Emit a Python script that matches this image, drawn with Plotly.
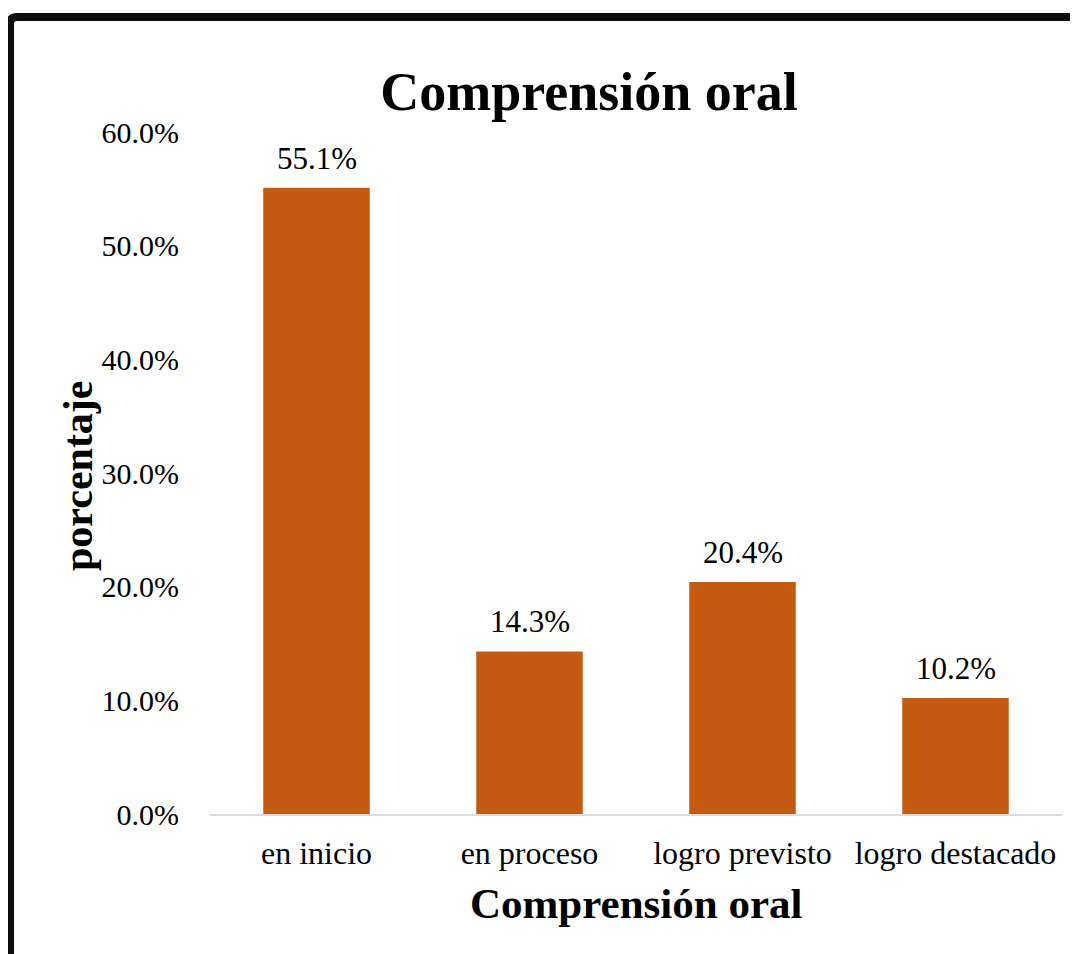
import plotly.graph_objects as go

categories = ["en inicio", "en proceso", "logro previsto", "logro destacado"]
values = [0.551, 0.143, 0.204, 0.102]
labels = ["55.1%", "14.3%", "20.4%", "10.2%"]
title_text = "Comprensión oral"
x_title = "Comprensión oral"
y_title = "porcentaje"

OFF = 8  # page body margin
W, H = 1078 - OFF, 954 - OFF
L, R, T, B = 210 - OFF, 16, 132 - OFF, 140
pw, ph = W - L - R, H - T - B

def px(x):
    # x given in reference page pixels
    return (x - OFF - L) / pw

def py(y):
    return (H - B - (y - OFF)) / ph

FONT = "Liberation Serif, Times New Roman, serif"
BAR = "#C55A11"

fig = go.Figure()
fig.add_trace(go.Bar(
    x=categories, y=values, marker=dict(color=BAR, line=dict(width=0)),
    width=0.5, hoverinfo="skip"
))

annotations = []
for c, v, t in zip(categories, values, labels):
    annotations.append(dict(x=c, y=v, xref="x", yref="y", text=t, showarrow=False,
                            yanchor="bottom", yshift=10,
                            font=dict(family=FONT, size=31, color="#000000")))
annotations.append(dict(x=px(636), y=py(904), xref="paper", yref="paper", text="<b>" + x_title + "</b>",
                        showarrow=False, xanchor="center", yanchor="middle",
                        font=dict(family=FONT, size=43, color="#000000")))
annotations.append(dict(x=px(78), y=py(476), xref="paper", yref="paper", text="<b>" + y_title + "</b>",
                        showarrow=False, xanchor="center", yanchor="middle", textangle=-90,
                        font=dict(family=FONT, size=42, color="#000000")))

fig.update_layout(
    width=W, height=H,
    margin=dict(l=L, r=R, t=T, b=B, pad=0),
    paper_bgcolor="white", plot_bgcolor="white",
    showlegend=False,
    title=dict(text="<b>" + title_text + "</b>", x=(589 - OFF) / W, y=1 - (91 - OFF) / H,
               xanchor="center", yanchor="middle", xref="container", yref="container",
               font=dict(family=FONT, size=54, color="#000000")),
    font=dict(family=FONT, size=30, color="#000000"),
    annotations=annotations,
    shapes=[dict(type="path", xref="paper", yref="paper",
                 path=f"M {px(10)},{py(970)} L {px(10)},{py(24)} Q {px(10)},{py(17)} {px(17)},{py(17)} L {px(1100)},{py(17)}",
                 line=dict(color="#0d0d0d", width=8))],
)
fig.update_xaxes(showgrid=False, showline=True, linecolor="#d9dde3", linewidth=2,
                 ticks="outside", ticklen=10, tickcolor="rgba(0,0,0,0)",
                 tickfont=dict(family=FONT, size=32, color="#000000"), fixedrange=True)
fig.update_yaxes(range=[0, 0.6], dtick=0.1, tickformat=".1%", showgrid=False, showline=False,
                 zeroline=False, ticks="outside", ticklen=24, tickcolor="rgba(0,0,0,0)",
                 tickfont=dict(family=FONT, size=30, color="#000000"), fixedrange=True)

fig.write_html("out.html", config={"displayModeBar": False})
